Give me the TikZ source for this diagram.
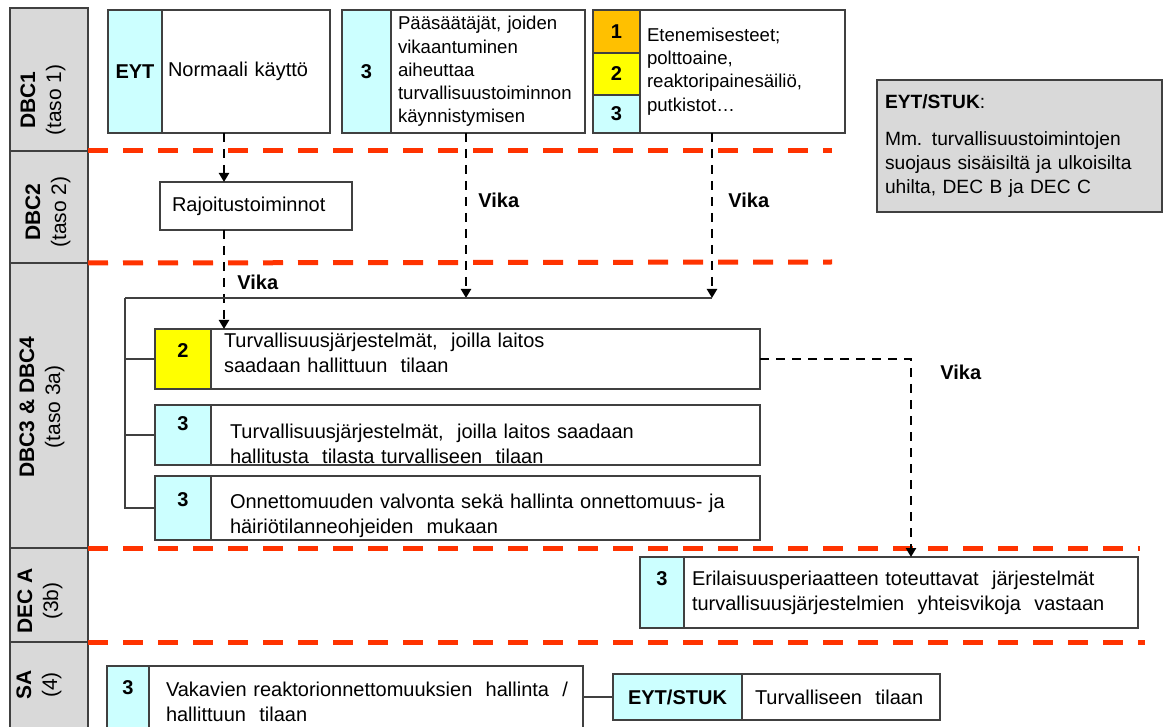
\documentclass[tikz,border=0pt]{standalone}
\usepackage{fontspec}
\setmainfont{Liberation Sans}
\usetikzlibrary{arrows.meta, calc}
\definecolor{tagcyan}{HTML}{CCFFFF}
\definecolor{tagyellow}{HTML}{FFFF00}
\definecolor{tagorange}{HTML}{FFC000}
\definecolor{levelgray}{HTML}{D9D9D9}
\definecolor{limitred}{HTML}{FF3300}
\definecolor{edgegray}{HTML}{404040}
% lines of a cell, kept unbroken, shifted up or down
\newcommand{\celllines}[2][0pt]{\raisebox{#1}[\height][\depth]{\begin{tabular}{@{}l@{}}#2\end{tabular}}}

\begin{document}
\begin{tikzpicture}[x=0.5pt,y=-0.5pt,>={Triangle[width=5pt,length=4.5pt]},
  cell/.style={draw=edgegray,line width=0.9pt,anchor=north west,inner sep=0pt,outer sep=0pt},
  tag/.style={cell,font=\bfseries\fontsize{10}{12}\selectfont},
  txt/.style={cell,fill=white,align=left,font=\fontsize{9.3}{11.6}\selectfont},
  txtlow/.style={txt,font=\fontsize{10}{12.5}\selectfont},
  num/.style={font=\bfseries\fontsize{10}{12}\selectfont,inner sep=0pt},
  level/.style={draw=edgegray,line width=0.9pt,fill=levelgray,anchor=north west,
    minimum width=39pt,inner sep=0pt,outer sep=0pt},
  levtxt/.style={rotate=90,align=center,font=\fontsize{10.5}{13}\selectfont},
  limit/.style={draw=limitred,line width=2.5pt,dash pattern=on 10pt off 7.5pt},
  fault/.style={draw=black,line width=1.3pt,dash pattern=on 4.5pt off 3.5pt,->},
  vika/.style={font=\bfseries\fontsize{10}{12}\selectfont,anchor=west,inner sep=0pt},
  link/.style={draw=edgegray,line width=0.9pt}]
  \useasboundingbox (0,0) rectangle (1168,727);
  \clip (0,0) rectangle (1168,727);

  % levels (left column)
  \node[level,minimum height=71.5pt] (l1) at (10,8) {};
  \node[level,minimum height=56pt]   (l2) at (10,151) {};
  \node[level,minimum height=142.5pt](l3) at (10,263) {};
  \node[level,minimum height=47pt]   (l4) at (10,548) {};
  \node[level,minimum height=47pt]   (l5) at (10,642) {};
  \node[levtxt] (l1t) at (43,100) {\textbf{DBC1}\\(taso 1)};
  \node[levtxt] (l2t) at (48,212) {\textbf{DBC2}\\(taso 2)};
  \node[levtxt] (l3t) at (42,407) {\textbf{DBC3 \& DBC4}\\(taso 3a)};
  \node[levtxt] (l4t) at (40,601) {\textbf{DEC A}\\(3b)};
  \node[levtxt] (l5t) at (39,685) {\textbf{SA}\\(4)};

  % limits between levels
  \draw[limit] (l2.north east) -- (832,151);
  \draw[limit] (l3.north east) -- (832,262);
  \draw[limit] (l4.north east) -- (1140,548);
  \draw[limit] (l5.north east) -- (1145,642);

  % DBC1 boxes
  \node[tag,fill=tagcyan,minimum width=27pt,minimum height=61.5pt] (eytT) at (108,10) {EYT};
  \node[txt,font=\fontsize{10}{12}\selectfont,minimum width=84pt,minimum height=61.5pt,
    text width=78pt,inner xsep=3pt] (eyt) at (eytT.north east) {Normaali käyttö};
  \node[tag,fill=tagcyan,minimum width=24.5pt,minimum height=61.5pt] (pssT) at (342,10) {3};
  \node[txt,minimum width=97pt,minimum height=61.5pt,text width=90pt,inner xsep=3.5pt]
    (pss) at (pssT.north east)
    {Pääsäätäjät, joiden\\vikaantuminen\\aiheuttaa\\turvallisuustoiminnon\\käynnistymisen};
  \node[tag,fill=tagorange,minimum width=23.5pt,minimum height=21.5pt] (eteT1) at (593,10) {1};
  \node[tag,fill=tagyellow,minimum width=23.5pt,minimum height=21pt] (eteT2) at (eteT1.south west) {2};
  \node[tag,fill=tagcyan,minimum width=23.5pt,minimum height=19pt] (eteT3) at (eteT2.south west) {3};
  \node[txt,minimum width=102.5pt,minimum height=61.5pt,text width=95.5pt,inner xsep=3.5pt]
    (ete) at (eteT1.north east)
    {Etenemisesteet;\\polttoaine,\\reaktoripainesäiliö,\\putkistot…};

  % EYT/STUK note
  \node[txt,fill=levelgray,font=\fontsize{9.6}{12}\selectfont,minimum width=142.5pt,
    minimum height=66pt,text width=134.5pt,inner xsep=4pt] (note) at (877,80)
    {\textbf{EYT/STUK}:\\[6.5pt]Mm. turvallisuustoimintojen\\suojaus sisäisiltä ja ulkoisilta\\uhilta, DEC B ja DEC C};

  % DBC2
  \node[txt,font=\fontsize{10}{12}\selectfont,minimum width=96pt,minimum height=24pt,
    text width=84pt,inner xsep=6pt] (raj) at (160,182) {Rajoitustoiminnot};

  % DBC3 & DBC4 boxes
  \node[cell,fill=tagyellow,minimum width=28pt,minimum height=30pt] (t2) at (155,329) {};
  \node[txtlow,minimum width=274.5pt,minimum height=30pt,text width=261.5pt,inner xsep=6.5pt]
    (sys2) at (t2.north east)
    {\celllines[2.1pt]{Turvallisuusjärjestelmät,\ \ joilla laitos\\saadaan hallittuun\ \ tilaan}};
  \node[cell,fill=tagcyan,minimum width=28pt,minimum height=30pt] (t3) at (155,405) {};
  \node[txtlow,minimum width=274.5pt,minimum height=30pt,text width=255.5pt,inner xsep=9.5pt]
    (sys3) at (t3.north east)
    {\celllines[-5.5pt]{Turvallisuusjärjestelmät,\ \ joilla laitos saadaan\\hallitusta\ \ tilasta turvalliseen\ \ tilaan}};
  \node[cell,fill=tagcyan,minimum width=28pt,minimum height=32pt] (t4) at (155,476) {};
  \node[txtlow,minimum width=274.5pt,minimum height=32pt,text width=255.5pt,inner xsep=9.5pt]
    (sys4) at (t4.north east)
    {\celllines[-4pt]{Onnettomuuden valvonta sekä hallinta onnettomuus- ja\\häiriötilanneohjeiden\ \ mukaan}};
  \node[num] (n2) at ([yshift=-11pt]t2.north) {2};
  \node[num] (n3) at ([yshift=-9.5pt]t3.north) {3};
  \node[num] (n4) at ([yshift=-12pt]t4.north) {3};

  % DEC A
  \node[cell,fill=tagcyan,minimum width=22pt,minimum height=35.5pt] (t5) at (640,557) {};
  \node[txtlow,minimum width=227pt,minimum height=35.5pt,text width=219pt,inner xsep=4pt]
    (deca) at (t5.north east)
    {\celllines{Erilaisuusperiaatteen toteuttavat\ \ järjestelmät\\turvallisuusjärjestelmien\ \ yhteisvikoja\ \ vastaan}};
  \node[num] (n5) at ([yshift=-11pt]t5.north) {3};

  % SA
  \node[cell,fill=tagcyan,minimum width=21pt,minimum height=31pt] (t6) at (107,666) {};
  \node[txtlow,minimum width=217pt,minimum height=31pt,text width=200pt,inner xsep=8.5pt]
    (sa) at (t6.north east)
    {\celllines[-3.6pt]{Vakavien reaktorionnettomuuksien\ \ hallinta\ \ /\\hallittuun\ \ tilaan}};
  \node[num] (n6) at ([yshift=-11pt]t6.north) {3};
  \node[tag,fill=tagcyan,minimum width=64.5pt,minimum height=23pt] (stukT) at (613,674) {EYT/STUK};
  \node[txtlow,minimum width=99pt,minimum height=23pt,text width=86pt,inner xsep=6.5pt]
    (stuk) at (stukT.north east) {Turvalliseen\ \ tilaan};

  % fault paths
  \coordinate (fA) at ([xshift=-16pt]raj.north);
  \coordinate (busL) at (125,298);
  \coordinate (fB) at (466,298);
  \coordinate (fC) at (712,298);
  \draw[fault] (fA |- eyt.south) -- (fA);
  \draw[fault] (raj.south -| fA) -- (fA |- sys2.north);
  \draw[fault] (pss.south -| fB) -- (fB);
  \draw[fault] (ete.south -| fC) -- (fC);
  \draw[fault] (sys2.east) -| (deca.north);
  \node[vika] (v1) at (237,282) {Vika};
  \node[vika] (v2) at (478,200) {Vika};
  \node[vika] (v3) at (728,200) {Vika};
  \node[vika] (v4) at (940,372) {Vika};

  % bus to the safety systems
  \draw[link] (busL) -- (fC);
  \draw[link] (busL) |- (t2.west);
  \draw[link] (busL) |- (t3.west);
  \draw[link] (busL) |- (t4.west);
  \draw[link] (sa.east) -- (stukT.west);
\end{tikzpicture}
\end{document}
